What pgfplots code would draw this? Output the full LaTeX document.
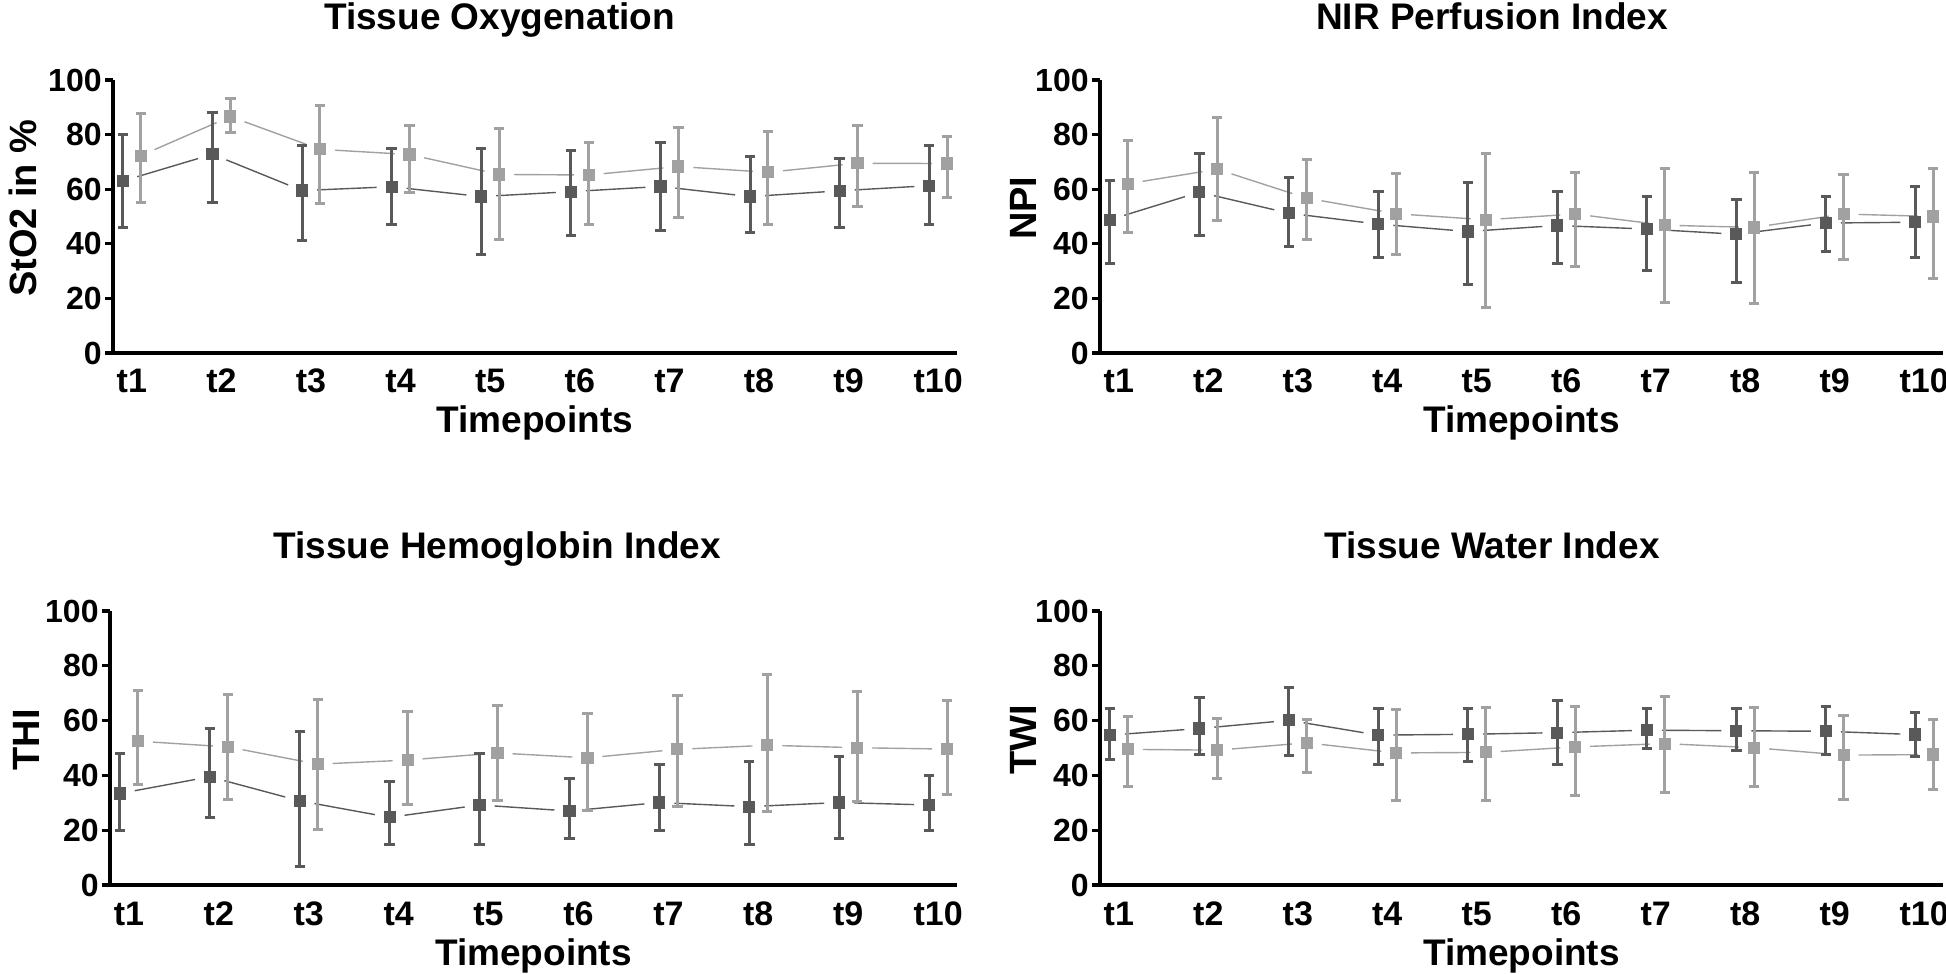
\documentclass[border=0pt]{standalone}
\usepackage{fontspec}
\setmainfont{Liberation Sans}
\usepackage{pgfplots}
\usepackage{pgfplotstable}
\pgfplotsset{compat=1.18}
\definecolor{dk}{gray}{0.35}
\definecolor{lt}{gray}{0.63}

% ---- Tissue Oxygenation
\pgfplotstableread{
x y hi lo
0.9 63.0 79.9 46.1
1.9 72.8 88.2 55.1
2.9 59.5 76.1 41.1
3.9 60.9 75.0 47.2
4.9 57.3 75.0 36.2
5.9 59.1 74.0 43.2
6.9 61.0 77.2 45.0
7.9 57.3 72.0 44.1
8.9 59.4 71.1 46.1
9.9 61.3 76.0 47.2
}\StoDark
\pgfplotstableread{
x y hi lo
1.1 72.3 87.8 55.2
2.1 86.6 93.3 80.7
3.1 74.6 90.5 54.6
4.1 72.7 83.3 58.9
5.1 65.4 82.3 41.7
6.1 65.2 77.1 47.0
7.1 68.3 82.6 49.8
8.1 66.2 81.3 47.2
9.1 69.5 83.2 53.5
10.1 69.4 79.3 56.8
}\StoLight
% ---- NPI
\pgfplotstableread{
x y hi lo
0.9 48.8 63.2 32.9
1.9 58.9 73.2 43.0
2.9 51.2 64.3 39.0
3.9 47.2 59.1 35.1
4.9 44.5 62.4 25.0
5.9 46.7 59.1 32.9
6.9 45.4 57.3 30.1
7.9 43.5 56.1 26.0
8.9 47.6 57.3 37.0
9.9 47.9 61.0 35.0
}\NpiDark
\pgfplotstableread{
x y hi lo
1.1 62.0 78.0 44.3
2.1 67.3 86.2 48.5
3.1 56.7 70.7 41.5
4.1 51.0 65.6 36.2
5.1 48.8 73.2 16.5
6.1 50.9 66.1 31.5
7.1 46.8 67.4 18.5
8.1 46.0 66.1 18.3
9.1 50.9 65.2 34.1
10.1 50.0 67.6 27.2
}\NpiLight
% ---- THI
\pgfplotstableread{
x y hi lo
0.9 33.4 48.0 20.0
1.9 39.5 57.1 24.7
2.9 30.7 55.9 6.9
3.9 24.7 37.9 14.8
4.9 29.2 48.0 14.8
5.9 27.0 38.9 16.8
6.9 30.1 44.0 19.8
7.9 28.6 45.0 14.8
8.9 30.1 47.0 16.8
9.9 29.2 39.9 19.8
}\ThiDark
\pgfplotstableread{
x y hi lo
1.1 52.5 71.1 36.8
2.1 50.4 69.5 31.3
3.1 44.1 67.7 20.3
4.1 45.6 63.5 29.4
5.1 48.2 65.4 31.0
6.1 46.4 62.6 27.3
7.1 49.5 69.3 28.6
8.1 51.0 76.9 26.7
9.1 50.1 70.8 30.6
10.1 49.6 67.4 33.0
}\ThiLight
% ---- TWI
\pgfplotstableread{
x y hi lo
0.9 54.7 64.4 45.9
1.9 57.1 68.3 47.8
2.9 60.1 71.9 47.1
3.9 54.7 64.4 44.1
4.9 55.0 64.4 45.0
5.9 55.6 67.2 44.1
6.9 56.5 64.4 49.8
7.9 56.3 64.4 49.0
8.9 56.1 65.0 47.8
9.9 54.9 62.9 47.0
}\TwiDark
\pgfplotstableread{
x y hi lo
1.1 49.5 61.4 36.1
2.1 49.2 60.8 38.9
3.1 51.9 60.4 41.1
4.1 48.2 64.0 31.0
5.1 48.4 64.8 31.0
6.1 50.4 65.2 32.6
7.1 51.6 68.9 33.7
8.1 50.1 64.8 36.1
9.1 47.4 61.7 31.2
10.1 47.6 60.4 35.0
}\TwiLight

\pgfplotsset{
  panel/.style={
    scale only axis,
    xmin=0.79, xmax=10.21, ymin=0, ymax=100,
    axis x line*=bottom, axis y line*=left,
    axis line style={line width=1.8pt, -},
    xtick={1,...,10}, xticklabels={t1,t2,t3,t4,t5,t6,t7,t8,t9,t10},
    x tick style={draw=none},
    ytick={0,20,...,100},
    y tick style={line width=1.6pt, black},
    tick align=outside, major tick length=4pt,
    /pgf/number format/assume math mode=true,
    yticklabel style={font=\bfseries\fontsize{16}{16}\selectfont, inner sep=1.5pt},
    xticklabel style={font=\bfseries\fontsize{17}{17}\selectfont, anchor=base, yshift=-16pt},
    xlabel style={font=\bfseries\fontsize{18.5}{19}\selectfont, at={(axis description cs:0.5,0)}, anchor=base, yshift=-40pt},
    ylabel style={font=\bfseries\fontsize{19}{19}\selectfont, anchor=north},
    title style={font=\bfseries\fontsize{18.5}{19}\selectfont, anchor=base},
    clip=false,
  },
  ser/.style={
    color=#1, only marks, mark=square*, mark size=2.8pt,
    mark options={solid, fill=#1, draw=#1, line width=0pt},
    error bars/.cd, y dir=both, y explicit,
    error bar style={line width=1.5pt, color=#1},
    error mark options={rotate=90, line width=1.5pt, mark size=2.6pt, color=#1},
  },
}
\newcommand{\series}[2]{%
  \addplot[ser=#2] table[x=x, y=y,
    y error plus expr=\thisrow{hi}-\thisrow{y},
    y error minus expr=\thisrow{y}-\thisrow{lo}] {#1};}
% connecting line segments, with gaps near the points
\newcommand{\segs}[2]{%
  \pgfplotstablegetrowsof{#1}%
  \pgfmathtruncatemacro{\nlast}{\pgfplotsretval-2}%
  \pgfplotsforeachungrouped \i in {0,...,\nlast}{%
    \pgfmathtruncatemacro{\j}{\i+1}%
    \pgfplotstablegetelem{\i}{x}\of{#1}\let\xa\pgfplotsretval
    \pgfplotstablegetelem{\i}{y}\of{#1}\let\ya\pgfplotsretval
    \pgfplotstablegetelem{\j}{x}\of{#1}\let\xb\pgfplotsretval
    \pgfplotstablegetelem{\j}{y}\of{#1}\let\yb\pgfplotsretval
    \edef\doseg{\noexpand\addplot[color=#2, line width=0.7pt, shorten <=7.5pt, shorten >=7.5pt, forget plot] coordinates {(\xa,\ya) (\xb,\yb)};}%
    \doseg
  }%
}

\begin{document}
\begin{tikzpicture}
\path[use as bounding box] (0,0) rectangle (973pt,486.5pt);

% Top left
\begin{axis}[panel, at={(56.5pt,310pt)}, anchor=south west,
  width=422pt, height=136.5pt,
  title={Tissue Oxygenation}, title style={at={(axis description cs:0.458,1)}, yshift=19.3pt},
  xlabel={Timepoints}, ylabel={StO2 in \%},
  ylabel style={at={(axis description cs:-0.132,0.53)}}]
\segs{\StoDark}{dk}
\segs{\StoLight}{lt}
\series{\StoDark}{dk}
\series{\StoLight}{lt}
\end{axis}

% Top right
\begin{axis}[panel, at={(550pt,310pt)}, anchor=south west,
  width=421.5pt, height=136.5pt,
  title={NIR Perfusion Index}, title style={at={(axis description cs:0.465,1)}, yshift=19.3pt},
  xlabel={Timepoints}, ylabel={NPI},
  ylabel style={at={(axis description cs:-0.115,0.53)}}]
\segs{\NpiDark}{dk}
\segs{\NpiLight}{lt}
\series{\NpiDark}{dk}
\series{\NpiLight}{lt}
\end{axis}

% Bottom left
\begin{axis}[panel, at={(55pt,44pt)}, anchor=south west,
  width=423.5pt, height=137pt,
  title={Tissue Hemoglobin Index}, title style={at={(axis description cs:0.457,1)}, yshift=20pt},
  xlabel={Timepoints}, ylabel={THI},
  ylabel style={at={(axis description cs:-0.123,0.53)}}]
\segs{\ThiDark}{dk}
\segs{\ThiLight}{lt}
\series{\ThiDark}{dk}
\series{\ThiLight}{lt}
\end{axis}

% Bottom right
\begin{axis}[panel, at={(550pt,44pt)}, anchor=south west,
  width=421.5pt, height=137pt,
  title={Tissue Water Index}, title style={at={(axis description cs:0.465,1)}, yshift=20pt},
  xlabel={Timepoints}, ylabel={TWI},
  ylabel style={at={(axis description cs:-0.115,0.53)}}]
\segs{\TwiDark}{dk}
\segs{\TwiLight}{lt}
\series{\TwiDark}{dk}
\series{\TwiLight}{lt}
\end{axis}
\end{tikzpicture}
\end{document}
